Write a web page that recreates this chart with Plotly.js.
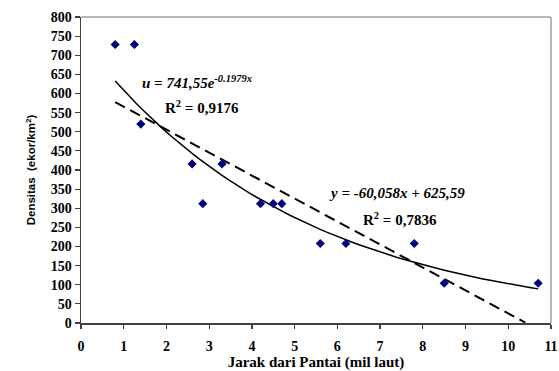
<!DOCTYPE html>
<html>
<head>
<meta charset="utf-8">
<script src="https://cdn.plot.ly/plotly-3.0.1.min.js"></script>
<style>html,body{margin:0;padding:0;background:#fff;}#chart{width:559px;height:371px;}</style>
</head>
<body>
<div id="chart"></div>
<script>
// Observed data: distance from shore (nautical miles) vs density (ekor/km2)
const jarak = [0.8, 1.25, 1.4, 2.6, 2.85, 3.3, 4.2, 4.5, 4.7, 5.6, 6.2, 7.8, 8.5, 10.7];
const densitas = [728, 728, 520, 416, 312, 416, 312, 312, 312, 208, 208, 208, 104, 104];

// Trendline coefficients as printed on the chart
const expA = 741.55, expB = -0.1979;      // u = 741,55 e^(-0.1979x)
const linM = -60.058, linC = 625.59;      // y = -60,058x + 625,59
const expRange = [0.8, 10.7];
const linRange = [0.8, 10.4];

const xTickVals = [0,1,2,3,4,5,6,7,8,9,10,11];
const yTickVals = [0,50,100,150,200,250,300,350,400,450,500,550,600,650,700,750,800];

// Trendline curves evaluated from the fitted equations
const expX = [], expY = [];
for (let i = 0; i <= 60; i++) {
  const x = expRange[0] + (expRange[1] - expRange[0]) * i / 60;
  expX.push(x); expY.push(expA * Math.exp(expB * x));
}
const linX = [linRange[0], linRange[1]];
const linY = linX.map(x => linM * x + linC);

const serif = "Liberation Serif, Times New Roman, serif";

const traces = [
  {x: linX, y: linY, mode: 'lines', line: {color: '#000', width: 2, dash: '11px,6px'}, hoverinfo: 'skip'},
  {x: expX, y: expY, mode: 'lines', line: {color: '#000', width: 1.5}, hoverinfo: 'skip'},
  {x: jarak, y: densitas, mode: 'markers', marker: {symbol: 'diamond', size: 7, color: '#000080'}}
];

const layout = {
  width: 559, height: 371,
  margin: {l: 81, r: 8, t: 17, b: 48},
  paper_bgcolor: '#fff', plot_bgcolor: '#fff',
  showlegend: false,
  font: {family: serif, color: '#000'},
  xaxis: {
    range: [0, 11], tickvals: xTickVals, ticktext: xTickVals.map(String),
    showgrid: false, zeroline: false,
    showline: true, linecolor: '#404040', linewidth: 1.5,
    ticks: 'outside', ticklen: 4, tickcolor: '#404040', tickwidth: 1.2,
    ticklabelstandoff: 6,
    tickfont: {family: serif, size: 14, color: '#000', weight: 'bold'},
    title: {text: '<b>Jarak dari Pantai (mil laut)</b>', font: {family: serif, size: 15, color: '#000'}, standoff: 0}
  },
  yaxis: {
    range: [0, 800], tickvals: yTickVals, ticktext: yTickVals.map(String),
    showgrid: false, zeroline: false,
    showline: true, linecolor: '#404040', linewidth: 1.5,
    ticks: 'outside', ticklen: 5, tickcolor: '#404040', tickwidth: 1.2,
    tickfont: {family: serif, size: 14, color: '#000', weight: 'bold'},
    title: {text: '<b>Densitas  (ekor/km<sup>2</sup>)</b>', font: {family: 'Liberation Sans, Arial, sans-serif', size: 11.5, color: '#000'}, standoff: 12}
  },
  shapes: [
    {type: 'line', xref: 'paper', yref: 'paper', x0: 0, x1: 1, y0: 1, y1: 1, line: {color: '#a0a0a0', width: 1.5}},
    {type: 'line', xref: 'paper', yref: 'paper', x0: 1, x1: 1, y0: 0, y1: 1, line: {color: '#a0a0a0', width: 1.5}}
  ],
  annotations: [
    {x: 1.39, y: 630, xref: 'x', yref: 'y', xanchor: 'left', yanchor: 'middle', showarrow: false,
     text: '<b><i>u = 741,55e</i><sup><i>-0.1979x</i></sup></b>', font: {family: serif, size: 15, color: '#000'}},
    {x: 1.93, y: 565, xref: 'x', yref: 'y', xanchor: 'left', yanchor: 'middle', showarrow: false,
     text: '<b>R<sup>2</sup> = 0,9176</b>', font: {family: serif, size: 15, color: '#000'}},
    {x: 5.76, y: 339, xref: 'x', yref: 'y', xanchor: 'left', yanchor: 'middle', showarrow: false,
     text: '<b><i>y = -60,058x + 625,59</i></b>', font: {family: serif, size: 15, color: '#000'}},
    {x: 6.55, y: 272, xref: 'x', yref: 'y', xanchor: 'left', yanchor: 'middle', showarrow: false,
     text: '<b>R<sup>2</sup> = 0,7836</b>', font: {family: serif, size: 15, color: '#000'}}
  ]
};

Plotly.newPlot('chart', traces, layout, {staticPlot: true, displayModeBar: false});
</script>
</body>
</html>
